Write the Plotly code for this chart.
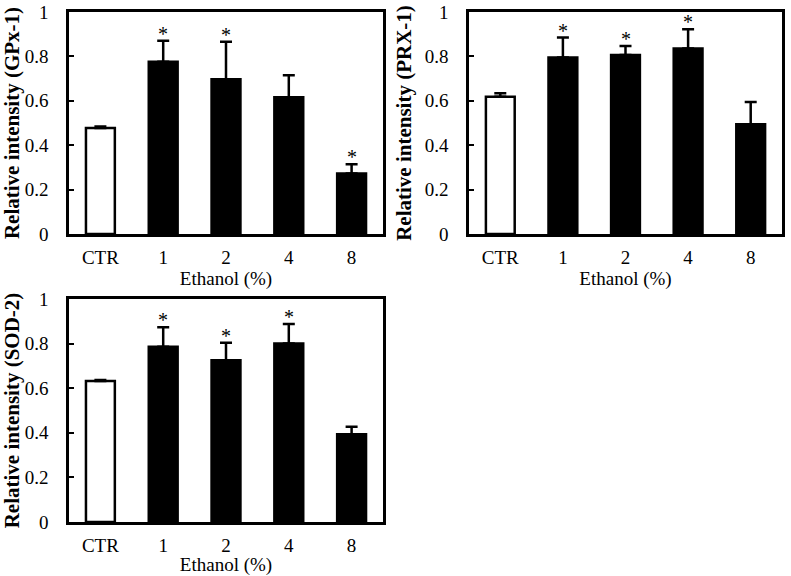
import plotly.graph_objects as go

categories = ["CTR", "1", "2", "4", "8"]

gpx_mean = [0.478, 0.776, 0.697, 0.616, 0.273]
gpx_err = [0.006, 0.095, 0.169, 0.099, 0.041]
gpx_sig = [False, True, True, False, True]

prx_mean = [0.618, 0.795, 0.806, 0.836, 0.494]
prx_err = [0.016, 0.090, 0.041, 0.086, 0.101]
prx_sig = [False, True, True, True, False]

sod_mean = [0.632, 0.786, 0.725, 0.800, 0.393]
sod_err = [0.005, 0.087, 0.079, 0.088, 0.034]
sod_sig = [False, True, True, True, False]

y_ticks = [0, 0.2, 0.4, 0.6, 0.8, 1.0]
y_ticktext = ["0", "0.2", "0.4", "0.6", "0.8", "1"]

panels = [
    ("GPx-1", gpx_mean, gpx_err, gpx_sig, "x", "y"),
    ("PRX-1", prx_mean, prx_err, prx_sig, "x2", "y2"),
    ("SOD-2", sod_mean, sod_err, sod_sig, "x3", "y3"),
]

FONT = "Liberation Serif, Times New Roman, serif"
fill_colors = ["white", "black", "black", "black", "black"]

fig = go.Figure()
annotations = []
for name, mean, err, sig, xa, ya in panels:
    fig.add_trace(go.Bar(
        x=categories, y=mean, xaxis=xa, yaxis=ya, width=0.46,
        marker=dict(color=fill_colors, line=dict(color="black", width=2.5)),
        error_y=dict(type="data", symmetric=False, array=err,
                     arrayminus=[0] * len(err), color="black",
                     thickness=2.5, width=6),
        showlegend=False, hoverinfo="skip",
    ))
    for i, (m, e, s) in enumerate(zip(mean, err, sig)):
        if s:
            annotations.append(dict(
                x=i, y=m + e, xref=xa, yref=ya, text="*", showarrow=False,
                yanchor="bottom", yshift=-6,
                font=dict(family=FONT, size=20, color="black"),
            ))

axis_common_x = dict(
    type="category", automargin=False,
    showline=True, linecolor="black", linewidth=2.5, mirror=True,
    ticks="", showgrid=False, zeroline=False, ticklabelstandoff=4,
    tickfont=dict(family=FONT, size=19, color="black"),
    title=dict(text="Ethanol (%)", font=dict(family=FONT, size=19, color="black"), standoff=3),
)

def yaxis(name):
    return dict(
        range=[0, 1], tickvals=y_ticks, ticktext=y_ticktext, automargin=False,
        showline=True, linecolor="black", linewidth=2.5, mirror=True,
        ticks="inside", ticklen=5, tickwidth=2, tickcolor="black",
        showgrid=False, zeroline=False, ticklabelstandoff=14,
        ticklabeloverflow="allow",
        tickfont=dict(family=FONT, size=19, color="black"),
        title=dict(text="<b>Relative intensity (%s)</b>" % name,
                   font=dict(family=FONT, size=21, color="black"), standoff=8),
    )

W, H = 791, 576

def xdom(a, b):
    return [a / W, b / W]

def ydom(top, bottom):
    return [(H - bottom) / H, (H - top) / H]

x1d = xdom(69, 383)
x2d = xdom(469, 782)
y1d = ydom(12, 234)
y2d = ydom(299, 522)

fig.update_layout(
    width=W, height=H, margin=dict(l=0, r=0, t=0, b=0, autoexpand=False),
    paper_bgcolor="white", plot_bgcolor="white",
    font=dict(family=FONT, color="black"),
    xaxis=dict(domain=x1d, anchor="y", **axis_common_x),
    yaxis=dict(domain=y1d, anchor="x", **yaxis("GPx-1")),
    xaxis2=dict(domain=x2d, anchor="y2", **axis_common_x),
    yaxis2=dict(domain=y1d, anchor="x2", **yaxis("PRX-1")),
    xaxis3=dict(domain=x1d, anchor="y3", **axis_common_x),
    yaxis3=dict(domain=y2d, anchor="x3", **yaxis("SOD-2")),
    annotations=annotations,
)

# remove the browser's default 8px body margin so the figure sits at the page origin
fig.write_html("out.html", config={"displayModeBar": False},
               post_script="document.body.style.margin='0px';")
